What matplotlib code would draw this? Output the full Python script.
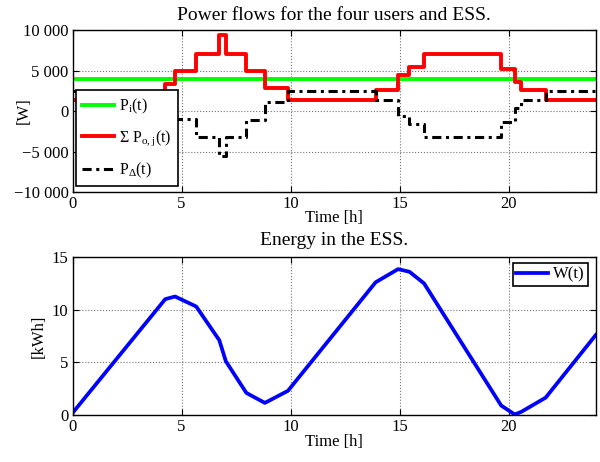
import matplotlib
matplotlib.use("Agg")
import matplotlib.pyplot as plt

plt.rcParams['font.family'] = ['Liberation Serif', 'DejaVu Serif']
plt.rcParams['mathtext.fontset'] = 'custom'
plt.rcParams['mathtext.rm'] = 'Liberation Serif'
plt.rcParams['mathtext.it'] = 'Liberation Serif'
plt.rcParams['mathtext.default'] = 'regular'
plt.rcParams['font.size'] = 12

# switching instants [h] shared by the step profiles
t_steps = [0, 4.25, 4.7, 5.67, 6.73, 7.03, 7.97, 8.82, 9.88, 13.9,
           14.93, 15.45, 16.12, 19.66, 20.28, 20.58, 21.7, 24]
# input power [W]
p_in = 3900
# total load of the four users [W]
p_out = [1380, 3300, 4900, 7080, 9375, 7080, 5000, 2830, 1380, 2580,
         4500, 5500, 7080, 5200, 3540, 2580, 1380]
# power into the ESS [W]
p_delta = [2520, 600, -1000, -3180, -5475, -3180, -1100, 1070, 2520, 1320,
           -600, -1600, -3180, -1300, 360, 1320, 2520]
# stored energy [kWh] at the same instants
w_ess = [0.2, 11.0, 11.25, 10.3, 7.1, 5.1, 2.1, 1.15, 2.3, 12.6,
         13.85, 13.6, 12.5, 0.9, 0.05, 0.3, 1.65, 7.6]

p_ticks = [-10000, -5000, 0, 5000, 10000]
p_ticklabels = ['\u221210 000', '\u22125 000', '0', '5 000', '10 000']


def style(ax):
    ax.set_xlim(0, 24)
    ax.set_xticks([0, 5, 10, 15, 20])
    ax.tick_params(direction='in', top=True, right=True, length=4,
                   labelsize=12, pad=3)
    ax.grid(True, linestyle=':', color='0.45', linewidth=0.8)
    for s in ax.spines.values():
        s.set_linewidth(1.0)


fig = plt.figure(figsize=(6, 4.62), dpi=100)
ax1 = fig.add_axes([0.121, 0.584, 0.872, 0.351])
ax2 = fig.add_axes([0.121, 0.1017, 0.872, 0.342])

# power flows
ax1.plot([t_steps[0], t_steps[-1]], [p_in, p_in], color=(0, 1, 0), lw=2.8,
         label='P$_{i}$(t)')
ax1.step(t_steps, p_out + [p_out[-1]], where='post', color='red', lw=2.8,
         label='\u03a3 P$_{o,j}$(t)')
ax1.step(t_steps, p_delta + [p_delta[-1]], where='post', color='black', lw=2.2,
         linestyle=(0, (3, 1.5, 1, 1.5)), label='P$_{\u0394}$(t)')
ax1.set_ylim(-10000, 10000)
ax1.set_yticks(p_ticks)
ax1.set_yticklabels(p_ticklabels)
style(ax1)
ax1.set_title('Power flows for the four users and ESS.', fontsize=14, pad=7)
ax1.set_xlabel('Time [h]', labelpad=-2)
ax1.set_ylabel('[W]')
ax1.yaxis.set_label_coords(-0.078, 0.5)
leg1 = ax1.legend(loc='lower left', bbox_to_anchor=(0.006, 0.037), borderaxespad=0,
                  fancybox=False, framealpha=1, edgecolor='black',
                  handlelength=2.0, labelspacing=0.78, fontsize=11.5,
                  borderpad=0.4, handletextpad=0.3)
leg1.get_frame().set_linewidth(1.2)

# energy stored in the ESS
ax2.plot(t_steps, w_ess, color='blue', lw=2.7, label='W(t)')
ax2.set_ylim(0, 15)
ax2.set_yticks([0, 5, 10, 15])
style(ax2)
ax2.set_title('Energy in the ESS.', fontsize=14, pad=9)
ax2.set_xlabel('Time [h]', labelpad=-1)
ax2.set_ylabel('[kWh]')
ax2.yaxis.set_label_coords(-0.049, 0.5)
leg2 = ax2.legend(loc='upper right', bbox_to_anchor=(0.985, 0.962), borderaxespad=0,
                  fancybox=False, framealpha=1, edgecolor='black',
                  handlelength=1.9, fontsize=12, borderpad=0.2,
                  handletextpad=0.3)
leg2.get_frame().set_linewidth(1.2)

fig.savefig('out.png', dpi=100)
